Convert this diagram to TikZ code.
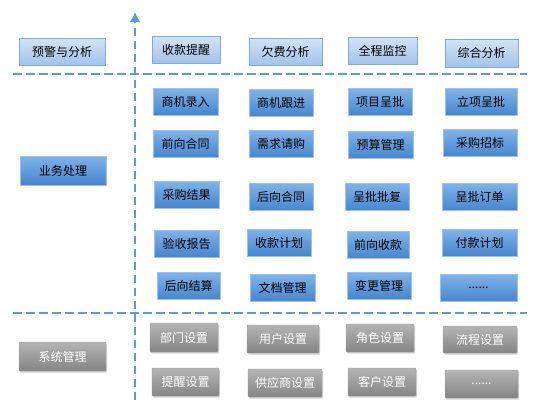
\documentclass[tikz,border=0pt]{standalone}
\usepackage{fontspec}
\newfontfamily\cjk{Noto Sans CJK SC}
\usepackage{tikz}
\usetikzlibrary{arrows.meta,positioning,shadows}

\definecolor{sepBlue}{HTML}{5B9BD5}
\definecolor{topHi}{HTML}{D3E3F6}
\definecolor{topLo}{HTML}{A3C3E9}
\definecolor{topLine}{HTML}{7FAADD}
\definecolor{midHi}{HTML}{80B2E8}
\definecolor{midLo}{HTML}{4685CE}
\definecolor{midLine}{HTML}{9CC2EC}
\definecolor{sysHi}{HTML}{B4B4B4}
\definecolor{sysLo}{HTML}{858585}

\tikzset{
  box/.style={minimum width=66pt, minimum height=27pt, inner sep=0pt,
    font=\cjk\fontsize{12pt}{14pt}\selectfont},
  anabox/.style={box, top color=topHi, bottom color=topLo, draw=topLine,
    line width=0.8pt},
  bizbox/.style={box, top color=midHi, bottom color=midLo, draw=midLine,
    line width=0.8pt},
  sysbox/.style={box, top color=sysHi, bottom color=sysLo, draw=sysLo!80,
    line width=0.4pt, text=white, rounded corners=1pt,
    drop shadow={opacity=0.35, shadow xshift=1.2pt, shadow yshift=-1.5pt}},
  sepline/.style={draw=sepBlue, line width=2.8pt,
    dash pattern=on 8.5pt off 4.5pt}
}

\begin{document}
\begin{tikzpicture}[x=1pt, y=-1pt, >=Latex]

    \useasboundingbox (0,0) rectangle (539,408);

    % ------------------ Separators ------------------
    \coordinate (sepTopL) at (13,74);
    \coordinate (sepTopR) at (527,74);
    \coordinate (sepBotL) at (13,313);
    \coordinate (sepBotR) at (527,313);
    \coordinate (axisLow) at (135,400);
    \coordinate (axisTip) at (135,12);

    \draw[sepline] (sepTopL) -- (sepTopR);
    \draw[sepline] (sepBotL) -- (sepBotR);
    \draw[sepline, -{Latex[length=10pt,width=11pt]}] (axisLow) -- (axisTip);

    % ------------------ Row titles ------------------
    \node[anabox, minimum width=86pt] (warn) at (62,51.5) {预警与分析};
    \node[bizbox, minimum width=86pt, minimum height=29pt] (biz) at (63,170.5) {业务处理};
    \node[sysbox, minimum width=87pt, minimum height=29pt] (sys) at (62.5,356.5) {系统管理};

    % ------------------ Analysis ------------------
    \node[anabox, minimum width=68pt] (remind) at (186,49.5) {收款提醒};
    \node[anabox, minimum width=73pt] (arrears) at (285.5,51.5) {欠费分析};
    \node[anabox, minimum width=69pt] (monitor) at (382.5,50.5) {全程监控};
    \node[anabox, minimum width=73pt, minimum height=28pt] (overall) at (481.5,53) {综合分析};

    % ------------------ Business ------------------
    \node[bizbox, minimum width=65pt] (oppIn) at (185.5,102) {商机录入};
    \node[bizbox, minimum width=64pt] (oppTrack) at (281,103) {商机跟进};
    \node[bizbox, minimum width=64pt] (projApp) at (380,102) {项目呈批};
    \node[bizbox, minimum width=72pt] (setupApp) at (481,102) {立项呈批};

    \node[bizbox, minimum width=65pt] (fwdContract) at (185.5,144) {前向合同};
    \node[bizbox, minimum width=64pt] (demand) at (281,144) {需求请购};
    \node[bizbox, minimum width=65pt] (budget) at (380.5,145) {预算管理};
    \node[bizbox, minimum width=74pt] (tender) at (480,143) {采购招标};

    \node[bizbox, minimum width=65pt] (purchRes) at (186.5,194.5) {采购结果};
    \node[bizbox, minimum width=64pt] (bwdContract) at (281,197) {后向合同};
    \node[bizbox, minimum width=64pt] (reply) at (377,197) {呈批批复};
    \node[bizbox, minimum width=75pt] (order) at (479.5,197) {呈批订单};

    \node[bizbox, minimum width=65pt] (accept) at (186.5,243.5) {验收报告};
    \node[bizbox, minimum width=64pt] (recvPlan) at (279,242.5) {收款计划};
    \node[bizbox, minimum width=62pt] (fwdRecv) at (378,245) {前向收款};
    \node[bizbox, minimum width=75pt] (payPlan) at (479.5,243) {付款计划};

    \node[bizbox, minimum width=63pt] (bwdSettle) at (188.5,286) {后向结算};
    \node[bizbox, minimum width=65pt] (docs) at (282.5,288) {文档管理};
    \node[bizbox, minimum width=64pt] (change) at (379,286) {变更管理};
    \node[bizbox, minimum width=77pt] (bizMore) at (478.5,288) {......};

    % ------------------ System ------------------
    \node[sysbox, minimum width=68pt, minimum height=29pt] (dept) at (184,337.5) {部门设置};
    \node[sysbox, minimum width=72pt, minimum height=28pt] (user) at (283,339) {用户设置};
    \node[sysbox, minimum width=68pt, minimum height=28pt] (role) at (380,338) {角色设置};
    \node[sysbox, minimum width=74pt, minimum height=27pt] (flow) at (480,339.5) {流程设置};

    \node[sysbox, minimum width=67pt, minimum height=28pt] (alert) at (185.5,382) {提醒设置};
    \node[sysbox, minimum width=74pt, minimum height=28pt] (supplier) at (285,383) {供应商设置};
    \node[sysbox, minimum width=68pt, minimum height=28pt] (client) at (382,382) {客户设置};
    \node[sysbox, minimum width=73pt, minimum height=28pt] (sysMore) at (481.5,384) {......};

\end{tikzpicture}
\end{document}
